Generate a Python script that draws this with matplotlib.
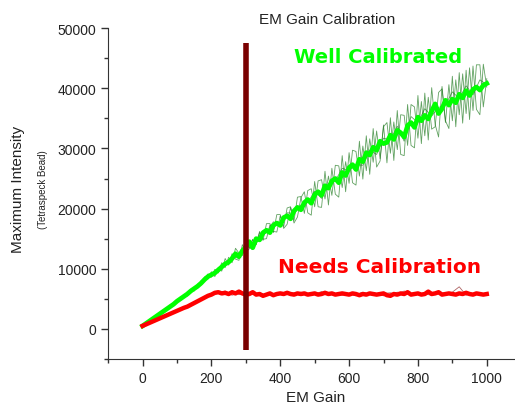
import matplotlib.pyplot as plt
from matplotlib.ticker import MultipleLocator

# EM gain steps
gain = list(range(0, 1001, 10))
gain_coarse = list(range(0, 1001, 20))

# averaged bead intensity, calibrated camera
well_mean = [500, 900, 1300, 1700, 2100, 2500, 2900, 3300, 3700, 4100,
             4600, 5000, 5400, 5800, 6300, 6700, 7100, 7600, 8200, 8700,
             9000, 9300, 9800, 10300, 10800, 11100, 11700, 12500, 12000, 13000,
             13600, 14500, 13500, 15000, 14800, 16000, 16400, 16000, 17200, 17600,
             17200, 18500, 18800, 18300, 19600, 20200, 19800, 21000, 21500, 20900,
             22300, 22800, 22200, 23800, 23400, 24600, 25000, 24300, 26000, 25500,
             26800, 27300, 26500, 28200, 27800, 29300, 28900, 30200, 29700, 31200,
             30800, 31000, 32200, 31500, 33000, 32600, 31900, 33800, 34300, 33500,
             35200, 34600, 35500, 34900, 36200, 37400, 35800, 36600, 38000, 37200,
             38200, 37600, 39000, 38400, 39600, 38800, 39800, 40200, 39700, 40500,
             40800]

# individual bead traces, calibrated camera
well_a = [500, 1000, 1200, 1850, 1950, 2700, 2800, 3550, 3500, 4250,
          4350, 5300, 5200, 6150, 6000, 6950, 6750, 8000, 7900, 9150,
          8600, 9900, 9300, 11000, 10200, 11900, 11000, 13400, 12600, 12200,
          14600, 13600, 14900, 14000, 16000, 14700, 17500, 17500, 16000, 19000,
          19000, 17000, 20100, 20300, 18000, 21900, 22000, 19200, 23000, 23300,
          20300, 24600, 24800, 21600, 25400, 22200, 27200, 27100, 23500, 27800,
          24200, 29700, 29500, 25400, 30400, 26300, 31600, 27700, 32900, 28300,
          33600, 34300, 29200, 34400, 29800, 35600, 35500, 30500, 37300, 36900,
          31700, 37800, 32100, 38500, 33200, 33600, 39300, 39900, 34300, 40600,
          34600, 41400, 35600, 42400, 35800, 43400, 36300, 43900, 43900, 36900,
          41600]
well_b = [500, 800, 1450, 1550, 2300, 2300, 3050, 3050, 4000, 3900,
          4900, 4700, 5650, 5450, 6600, 6300, 7450, 7300, 8650, 8300,
          9500, 8700, 10200, 9600, 11700, 10600, 12500, 11600, 11400, 14000,
          12800, 13300, 14800, 14100, 16200, 14900, 15000, 17300, 16200, 16100,
          18800, 16700, 17400, 20200, 17600, 18600, 21800, 22800, 19300, 18900,
          24500, 20300, 20200, 26200, 20600, 26700, 22400, 21900, 28800, 22800,
          29300, 24300, 23900, 31200, 24900, 32100, 25700, 33300, 26900, 27900,
          33900, 27600, 35100, 28000, 36300, 29000, 28800, 37300, 30500, 30100,
          38800, 30800, 39200, 31400, 40100, 34000, 31900, 40300, 34600, 33300,
          42000, 33600, 42600, 34200, 43000, 34800, 43700, 36500, 35600, 44000,
          40200]
well_c = [500, 1300, 2100, 2950, 3700, 4650, 5350, 6350, 7150, 8150,
          9050, 9700, 11000, 11900, 11800, 13900, 13200, 15200, 16000, 17800,
          17000, 19300, 19200, 20600, 21000, 22900, 21700, 24100, 24600, 26700,
          26300, 27300, 27200, 29700, 29000, 31700, 31400, 33700, 31200, 35300,
          34300, 36600, 35400, 36800, 37200, 39400, 38300, 40400, 38900, 41400,
          40600]

# averaged bead intensity, camera needing calibration
needs_mean = [500, 750, 1000, 1250, 1500, 1750, 2000, 2250, 2500, 2750,
              3000, 3250, 3500, 3700, 4000, 4300, 4600, 4900, 5200, 5500,
              5700, 6000, 6100, 5900, 6000, 5800, 6100, 5900, 6200, 5900,
              5700, 5800, 6100, 5700, 5800, 5500, 5700, 5900, 5600, 5800,
              5900, 5800, 6000, 5800, 5700, 5900, 5800, 5900, 5700, 5800,
              5900, 5700, 5800, 6000, 5800, 5900, 5700, 5800, 5900, 5800,
              5700, 5900, 5800, 5600, 5800, 5700, 5900, 5800, 5700, 5800,
              5900, 5600, 5500, 5800, 5700, 5900, 5800, 6100, 5700, 5800,
              5900, 5700, 5800, 6200, 5800, 5900, 6100, 5700, 5800, 5900,
              5800, 5700, 5900, 5800, 6000, 5800, 5700, 5900, 5800, 5700,
              5800]
needs_a = [500, 1000, 1500, 2000, 2500, 3000, 3500, 4000, 4600, 5200,
           5800, 6200, 5800, 6300, 5700, 5900, 6100, 5500, 5900, 5800,
           5900, 5700, 6000, 5600, 5900, 6000, 5700, 5800, 5900, 5700,
           5800, 5500, 5900, 5800, 5600, 5900, 6000, 5700, 6300, 5800,
           5700, 5900, 6000, 5800, 5700, 6100, 7000, 5600, 5900, 5800,
           5700]
needs_b = [500, 1000, 1500, 2000, 2500, 3000, 3500, 4000, 4600, 5200,
           5700, 5900, 6300, 5600, 6000, 5700, 5800, 6000, 5600, 5900,
           5700, 6000, 5800, 6100, 5600, 5800, 6200, 5700, 5900, 5600,
           5900, 5700, 6100, 5800, 5900, 5500, 5800, 6100, 5900, 5700,
           6000, 5800, 5600, 6000, 5900, 5700, 5800, 6200, 5700, 5900,
           5800]

fig = plt.figure(figsize=(5.15, 4.1), dpi=100)
ax = fig.add_axes([0.21, 0.122, 0.802, 0.807])

for trace in (well_a, well_b):
    ax.plot(gain, trace, color='#1e7a1e', linewidth=0.6, alpha=0.7, zorder=2)
ax.plot(gain_coarse, well_c, color='#1e7a1e', linewidth=0.6, alpha=0.7, zorder=2)
for trace in (needs_a, needs_b):
    ax.plot(gain_coarse, trace, color='#8b2020', linewidth=0.6, alpha=0.7, zorder=2)

ax.plot(gain, well_mean, color='#00ff00', linewidth=3.4, zorder=3)
ax.plot(gain, needs_mean, color='#ff0000', linewidth=3.2, zorder=3)

# gain setting marker
ax.vlines(300, -3500, 47500, color='#7a0000', linewidth=4, zorder=4)

ax.text(683, 45200, 'Well Calibrated', color='#00ff00', fontsize=14,
        fontweight='bold', family='DejaVu Sans', ha='center', va='center')
ax.text(690, 10300, 'Needs Calibration', color='#ff0000', fontsize=14.5,
        fontweight='bold', family='DejaVu Sans', ha='center', va='center')

ax.set_xlim(-100, 1100)
ax.set_ylim(-5000, 50000)
ax.xaxis.set_major_locator(MultipleLocator(200))
ax.xaxis.set_minor_locator(MultipleLocator(100))
ax.yaxis.set_major_locator(MultipleLocator(10000))
ax.yaxis.set_minor_locator(MultipleLocator(5000))
ax.set_xticks([0, 200, 400, 600, 800, 1000])
ax.set_yticks([0, 10000, 20000, 30000, 40000, 50000])

for side in ('top', 'right'):
    ax.spines[side].set_visible(False)
for side in ('left', 'bottom'):
    ax.spines[side].set_color('#333333')
ax.tick_params(which='major', direction='out', length=5, width=1, colors='#333333',
               labelsize=10, labelcolor='#222222')
ax.tick_params(which='minor', direction='out', length=3, width=1, colors='#333333')
for lbl in ax.get_xticklabels() + ax.get_yticklabels():
    lbl.set_family('Liberation Sans')

fig.text(0.635, 0.952, 'EM Gain Calibration', ha='center', va='center',
         fontsize=11, family='Liberation Sans', color='#222222')
fig.text(0.612, 0.029, 'EM Gain', ha='center', va='center',
         fontsize=11, family='Liberation Sans', color='#222222')
fig.text(0.035, 0.537, 'Maximum Intensity', ha='center', va='center', rotation=90,
         fontsize=11, family='Liberation Sans', color='#222222')
fig.text(0.083, 0.537, '(Tetraspeck Bead)', ha='center', va='center', rotation=90,
         fontsize=7, family='Liberation Sans', color='#222222')

fig.savefig('out.png', dpi=100)
